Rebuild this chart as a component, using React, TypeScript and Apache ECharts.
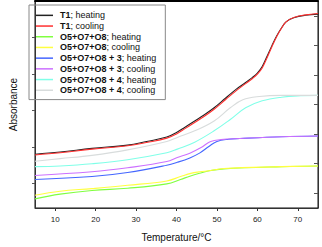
import React, { useEffect, useRef } from "react";
import * as echarts from "echarts";

const xTicks = [10, 20, 30, 40, 50, 60, 70];
const leftTicks = [0.1, 0.2, 0.3, 0.4, 0.5];
const rightTicks = [1, 2, 3, 4, 5, 6, 7];

const seriesNames = [
  "T1; heating",
  "T1; cooling",
  "O5+O7+O8; heating",
  "O5+O7+O8; cooling",
  "O5+O7+O8 + 3; heating",
  "O5+O7+O8 + 3; cooling",
  "O5+O7+O8 + 4; heating",
  "O5+O7+O8 + 4; cooling",
];
const seriesColors = ["#222222", "#ff3030", "#80ff40", "#ffff40", "#4466ff", "#cc70ff", "#80ffe8", "#d8dcdc"];

const t1Temp = [5, 11.2, 19.1, 27.9, 32.6, 37.6, 40.2, 42.1, 44.5, 46.9, 49.3, 52.1, 54.8, 57.1, 58.8, 60, 61.2, 62.4, 63.6, 64.8, 66, 67.1, 69, 71.9, 75];
const t1Heat = [0.18, 0.186, 0.196, 0.205, 0.215, 0.227, 0.241, 0.254, 0.271, 0.288, 0.307, 0.333, 0.358, 0.376, 0.39, 0.402, 0.42, 0.448, 0.477, 0.504, 0.526, 0.542, 0.553, 0.56, 0.563];
const t1Cool = [0.178, 0.184, 0.194, 0.203, 0.212, 0.224, 0.237, 0.25, 0.267, 0.284, 0.303, 0.329, 0.354, 0.373, 0.387, 0.399, 0.416, 0.444, 0.474, 0.502, 0.525, 0.542, 0.554, 0.561, 0.565];

const mixTemp = [5, 11.2, 19.1, 27.9, 37.6, 41, 43.3, 45.7, 48.1, 51.7, 66, 75];
const mixHeat = [0.058, 0.071, 0.081, 0.087, 0.099, 0.111, 0.12, 0.128, 0.135, 0.14, 0.146, 0.148];
const mixCool = [0.068, 0.079, 0.086, 0.095, 0.107, 0.119, 0.127, 0.132, 0.135, 0.141, 0.146, 0.148];

const m3HeatTemp = [5, 19.1, 27.9, 37.6, 40.2, 43.3, 45.7, 48.1, 50, 52.9, 55.7, 66, 75];
const m3Heat = [0.111, 0.119, 0.13, 0.15, 0.158, 0.17, 0.183, 0.202, 0.215, 0.221, 0.223, 0.228, 0.23];
const m3CoolTemp = [5, 19.1, 27.9, 37.6, 40.2, 43.3, 46.2, 48.3, 51, 55.7, 66, 75];
const m3Cool = [0.122, 0.132, 0.143, 0.16, 0.171, 0.183, 0.199, 0.214, 0.22, 0.223, 0.228, 0.23];

const m4HeatTemp = [5, 11.2, 19.1, 27.9, 37.6, 40.2, 44.5, 49.3, 53.3, 57.1, 61.2, 66, 70.7, 75];
const m4Heat = [0.146, 0.148, 0.154, 0.165, 0.184, 0.194, 0.213, 0.244, 0.275, 0.307, 0.326, 0.336, 0.34, 0.341];
const m4CoolTemp = [5, 11.2, 19.1, 27.9, 37.6, 40.2, 44.5, 49.3, 53.3, 56.4, 60.5, 66, 75];
const m4Cool = [0.161, 0.168, 0.177, 0.192, 0.215, 0.226, 0.244, 0.271, 0.307, 0.329, 0.338, 0.341, 0.341];

const pairs = (xs: number[], ys: number[]) => xs.map((x, i) => [x, ys[i]]);

export default function App() {
  const ref = useRef<HTMLDivElement>(null);
  useEffect(() => {
    if (!ref.current) return;
    const chart = echarts.init(ref.current, null, { renderer: "svg" });
    const datasets = [
      pairs(t1Temp, t1Heat),
      pairs(t1Temp, t1Cool),
      pairs(mixTemp, mixHeat),
      pairs(mixTemp, mixCool),
      pairs(m3HeatTemp, m3Heat),
      pairs(m3CoolTemp, m3Cool),
      pairs(m4HeatTemp, m4Heat),
      pairs(m4CoolTemp, m4Cool),
    ];
    const font = "Liberation Sans, Arial, sans-serif";
    chart.setOption({
      animation: false,
      textStyle: { fontFamily: font },
      grid: { left: 24, right: 4, top: 1, bottom: 35, show: true, borderColor: "#111", borderWidth: 1 },
      legend: {
        orient: "vertical",
        left: 29,
        top: 5,
        padding: [5, 9, 4, 7],
        borderColor: "#888",
        borderWidth: 1,
        icon: "rect",
        itemWidth: 17,
        itemHeight: 1.5,
        itemGap: 0,
        data: seriesNames,
        formatter: (name: string) => {
          const i = name.indexOf(";");
          return `{b|${name.slice(0, i)}}{n|${name.slice(i)}}`;
        },
        textStyle: {
          fontFamily: font,
          fontSize: 9,
          lineHeight: 10.7,
          color: "#111",
          padding: [0, 0, 0, 2],
          rich: {
            b: { fontWeight: "bold", fontSize: 9, lineHeight: 10.7, fontFamily: font, color: "#111" },
            n: { fontSize: 9, lineHeight: 10.7, fontFamily: font, color: "#111" },
          },
        },
      },
      xAxis: [
        {
          type: "value",
          min: 5,
          max: 75,
          name: "Temperature/°C",
          nameLocation: "middle",
          nameGap: 24,
          nameTextStyle: { fontSize: 10, color: "#111", fontFamily: font },
          axisLine: { show: true, lineStyle: { color: "#333", width: 1 } },
          axisTick: { show: true, length: 3, inside: false, customValues: xTicks, lineStyle: { color: "#333" } },
          axisLabel: { customValues: xTicks, fontSize: 8, color: "#222", margin: 7, fontFamily: font },
          splitLine: { show: false },
        },
        {
          type: "value",
          position: "top",
          min: 5,
          max: 75,
          axisLine: { show: true, lineStyle: { color: "#000", width: 2 } },
          axisTick: { show: false },
          axisLabel: { show: false },
          splitLine: { show: false },
        },
      ],
      yAxis: [
        {
          type: "value",
          min: 0.033,
          max: 0.599,
          name: "Absorbance",
          nameLocation: "middle",
          nameGap: 17,
          nameRotate: 90,
          nameTextStyle: { fontSize: 10, color: "#111", fontFamily: font },
          axisLine: { show: true, lineStyle: { color: "#333", width: 1 } },
          axisTick: { show: true, length: 3, inside: false, customValues: leftTicks, lineStyle: { color: "#555" } },
          axisLabel: { show: false },
          splitLine: { show: false },
        },
        {
          type: "value",
          position: "right",
          min: 0.5,
          max: 7.5,
          axisLine: { show: true, lineStyle: { color: "#333", width: 1 } },
          axisTick: { show: true, length: 4, inside: true, customValues: rightTicks, lineStyle: { color: "#555" } },
          axisLabel: { show: false },
          splitLine: { show: false },
        },
      ],
      series: seriesNames.map((name, i) => ({
        name,
        type: "line",
        xAxisIndex: 0,
        yAxisIndex: 0,
        data: datasets[i],
        smooth: 0.4,
        showSymbol: false,
        symbol: "none",
        color: seriesColors[i],
        lineStyle: { color: seriesColors[i], width: 1.1 },
      })),
    });
    return () => chart.dispose();
  }, []);
  return <div ref={ref} style={{ position: "absolute", left: 0, top: 0, width: 322, height: 247 }} />;
}
